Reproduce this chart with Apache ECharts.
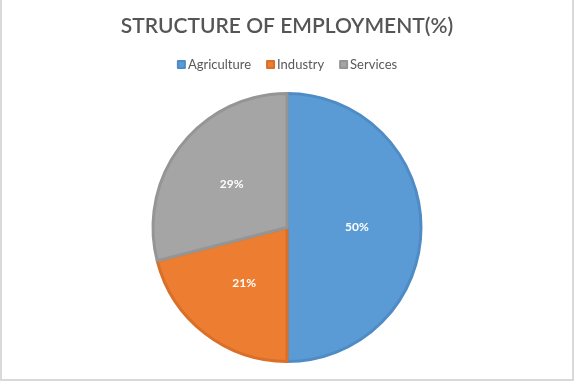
<!DOCTYPE html>
<html>
<head>
<meta charset="utf-8">
<script src="https://cdn.jsdelivr.net/npm/echarts@6/dist/echarts.min.js"></script>
<style>
html,body{margin:0;padding:0;background:#fff;}
#c{width:570px;height:379px;border-left:2px solid #d9d9d9;border-right:2px solid #d9d9d9;border-bottom:2px solid #d9d9d9;}
</style>
</head>
<body>
<div id="c"></div>
<script>
const categories = ["Agriculture", "Industry", "Services"];
const values = [50, 21, 29];
const colors = ["#5B9BD5", "#ED7D31", "#A5A5A5"];
const borderColors = ["#4F8CC6", "#D96F28", "#959595"];

const chart = echarts.init(document.getElementById('c'));
chart.setOption({
  animation: false,
  title: {
    text: "STRUCTURE OF EMPLOYMENT(%)",
    left: 'center',
    top: 11,
    textStyle: {fontFamily: 'Lato', fontSize: 21, fontWeight: 600, color: '#555555'}
  },
  legend: {
    top: 53,
    left: 'center',
    itemWidth: 7,
    itemHeight: 7,
    itemGap: 15,
    icon: 'rect',
    textStyle: {fontFamily: 'Lato', fontSize: 13, color: '#595959', padding: [0,0,0,-2]},
    data: categories
  },
  series: [{
    type: 'pie',
    center: [285, 227.5],
    radius: 134,
    startAngle: 90,
    clockwise: true,
    label: {
      position: 'inside',
      formatter: '{d}%',
      color: '#fff',
      fontFamily: 'Lato',
      fontWeight: 'bold',
      fontSize: 12
    },
    labelLine: {show: false},
    emphasis: {disabled: true},
    data: categories.map((n, i) => ({
      name: n, value: values[i],
      itemStyle: {color: colors[i], borderColor: borderColors[i], borderWidth: 3}
    }))
  }]
});
</script>
</body>
</html>
